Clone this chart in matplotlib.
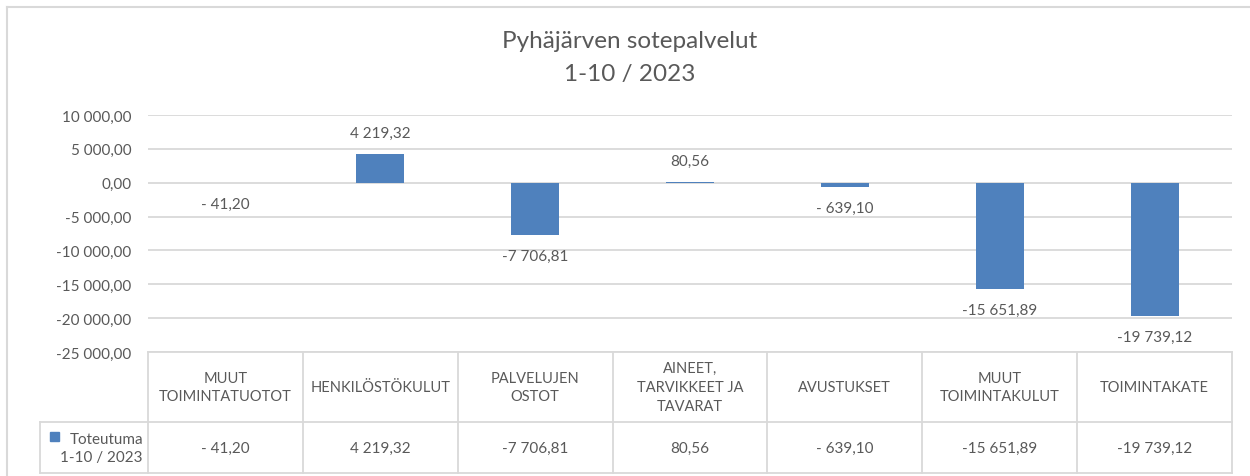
import matplotlib
matplotlib.use("Agg")
import matplotlib.pyplot as plt
from matplotlib.patches import Rectangle
from matplotlib.lines import Line2D

categories = ["MUUT\nTOIMINTATUOTOT", "HENKILÖSTÖKULUT", "PALVELUJEN\nOSTOT",
              "AINEET,\nTARVIKKEET JA\nTAVARAT", "AVUSTUKSET", "MUUT\nTOIMINTAKULUT",
              "TOIMINTAKATE"]
values = [-41.20, 4219.32, -7706.81, 80.56, -639.10, -15651.89, -19739.12]
series_name = "Toteutuma\n1-10 / 2023"
title = "Pyhäjärven sotepalvelut\n1-10 / 2023"
yticks = [10000, 5000, 0, -5000, -10000, -15000, -20000, -25000]

BAR = "#4F81BD"
TXT = "#595959"
GRID = "#D9D9D9"
FONT = ["Lato", "DejaVu Sans"]
plt.rcParams["font.family"] = FONT
FS = 11

W, H = 1250, 477
fig = plt.figure(figsize=(W / 100, H / 100), dpi=100)

def fx(px):
    return px / W

def fy(py):
    return 1 - py / H

def fmt(v):
    s = f"{abs(v):,.2f}".replace(",", " ").replace(".", ",")
    if v < 0:
        s = ("- " if abs(v) < 1000 else "-") + s
    return s

# outer chart border
fig.add_artist(Line2D([fx(7), fx(7)], [fy(8), 0], color=GRID, lw=1.5))
fig.add_artist(Line2D([fx(7), 1], [fy(8), fy(8)], color=GRID, lw=1.5))

left, right, top, bottom = 148, 1232, 116, 353
ax = fig.add_axes([fx(left), fy(bottom), fx(right - left), fy(top) - fy(bottom)])
n = len(categories)
x = list(range(n))
ax.bar(x, values, width=0.31, color=BAR, zorder=3)
ax.set_xlim(-0.5, n - 0.5)
ax.set_ylim(-25000, 10000)
ax.set_yticks(yticks)
ax.set_yticklabels([fmt(v) for v in yticks], color=TXT, fontsize=FS)
ax.tick_params(axis="y", length=0, pad=12)
ax.set_xticks([])
for s in ax.spines.values():
    s.set_visible(False)
ax.yaxis.grid(True, color=GRID, lw=1.3, zorder=0)

for xi, v in zip(x, values):
    off = 15 if v >= 0 else -15
    ax.annotate(fmt(v), (xi, v), xytext=(0, off), textcoords="offset points",
                ha="center", va="center", color=TXT, fontsize=FS)

# title
fig.text(fx(630), fy(58), title, ha="center", va="center", color=TXT,
         fontsize=17.5, linespacing=1.65)

# data table
colw = (right - left) / n
tl = dict(color=GRID, lw=1.3)
fig.add_artist(Line2D([fx(left), fx(right)], [fy(353), fy(353)], **tl))
fig.add_artist(Line2D([fx(40), fx(right)], [fy(423), fy(423)], **tl))
fig.add_artist(Line2D([fx(40), fx(right)], [fy(474), fy(474)], **tl))
fig.add_artist(Line2D([fx(40), fx(40)], [fy(423), fy(474)], **tl))
for k in range(n + 1):
    xx = left + k * colw
    fig.add_artist(Line2D([fx(xx), fx(xx)], [fy(353), fy(474)], **tl))
for k, (c, v) in enumerate(zip(categories, values)):
    cx = left + (k + 0.5) * colw
    fig.text(fx(cx), fy(388), c, ha="center", va="center", color=TXT,
             fontsize=10.5, linespacing=1.45)
    fig.text(fx(cx), fy(449), fmt(v), ha="center", va="center", color=TXT,
             fontsize=FS)
fig.add_artist(Rectangle((fx(50), fy(442)), fx(9), 9 / H, color=BAR))
fig.text(fx(143), fy(449), series_name, ha="right", va="center", color=TXT,
         fontsize=FS, linespacing=1.45)

fig.savefig("out.png", dpi=100)
